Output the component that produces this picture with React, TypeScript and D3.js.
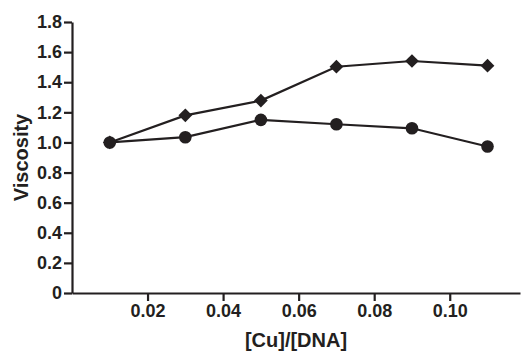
import React, { useRef, useEffect } from 'react';
import * as d3 from 'd3';

const RATIOS = [0.01, 0.03, 0.05, 0.07, 0.09, 0.11];
const DIAMOND_SERIES = [1.0, 1.18, 1.278, 1.503, 1.541, 1.51];
const CIRCLE_SERIES = [1.0, 1.035, 1.15, 1.121, 1.094, 0.973];
const X_TICKS = [0.02, 0.04, 0.06, 0.08, 0.1];
const Y_TICKS = [0, 0.2, 0.4, 0.6, 0.8, 1.0, 1.2, 1.4, 1.6, 1.8];

const INK = '#231f20';
const FONT = '"Liberation Sans", Arial, Helvetica, sans-serif';

function App() {
    const svgRef = useRef<SVGSVGElement>(null);
    const width = 521;
    const height = 351;
    const margin = { top: 22, right: 1, bottom: 58, left: 72 };

    useEffect(() => {
        const svg = d3.select(svgRef.current);
        svg.selectAll('*').remove();

        const xScale = d3.scaleLinear()
            .domain([0, 0.1186])
            .range([margin.left, width - margin.right]);
        const yScale = d3.scaleLinear()
            .domain([0, 1.8])
            .range([height - margin.bottom, margin.top]);

        svg.append('g')
            .attr('transform', `translate(0, ${yScale(0)})`)
            .call(d3.axisBottom(xScale).tickValues(X_TICKS).tickSize(8).tickSizeOuter(0).tickFormat(d3.format('.2f')));

        const yAxis = svg.append('g')
            .attr('transform', `translate(${margin.left}, 0)`)
            .call(d3.axisLeft(yScale).tickValues(Y_TICKS).tickSize(8).tickSizeOuter(0)
                .tickFormat(d => (d === 0 ? '0' : d3.format('.1f')(d as number))));
        yAxis.selectAll('text').attr('x', -10);

        svg.selectAll('.domain').attr('stroke', INK).attr('stroke-width', 2.2);
        svg.selectAll('.tick line').attr('stroke', INK).attr('stroke-width', 2.2);
        svg.selectAll('.tick text')
            .attr('fill', INK)
            .style('font-family', FONT)
            .style('font-size', '18px')
            .style('font-weight', 'bold');

        const line = d3.line<number>()
            .x((_, i) => xScale(RATIOS[i]))
            .y(d => yScale(d));

        [DIAMOND_SERIES, CIRCLE_SERIES].forEach(series => {
            svg.append('path')
                .datum(series)
                .attr('fill', 'none')
                .attr('stroke', INK)
                .attr('stroke-width', 2.2)
                .attr('d', line);
        });

        svg.selectAll('.diamond')
            .data(DIAMOND_SERIES)
            .enter()
            .append('path')
            .attr('class', 'diamond')
            .attr('d', d3.symbol(d3.symbolDiamond2, 120))
            .attr('transform', (d, i) => `translate(${xScale(RATIOS[i])}, ${yScale(d)})`)
            .attr('fill', INK);

        svg.selectAll('.dot')
            .data(CIRCLE_SERIES)
            .enter()
            .append('circle')
            .attr('class', 'dot')
            .attr('cx', (d, i) => xScale(RATIOS[i]))
            .attr('cy', d => yScale(d))
            .attr('r', 6.3)
            .attr('fill', INK);

        svg.append('text')
            .attr('x', 296)
            .attr('y', 347)
            .attr('text-anchor', 'middle')
            .attr('fill', INK)
            .style('font-family', FONT)
            .style('font-size', '20px')
            .style('font-weight', 'bold')
            .text('[Cu]/[DNA]');

        svg.append('text')
            .attr('transform', `translate(28, ${(yScale(0) + yScale(1.8)) / 2}) rotate(-90)`)
            .attr('text-anchor', 'middle')
            .attr('fill', INK)
            .style('font-family', FONT)
            .style('font-size', '20px')
            .style('font-weight', 'bold')
            .text('Viscosity');
    }, []);

    return (
        <svg
            ref={svgRef}
            width={width}
            height={height}
            style={{ position: 'absolute', left: 0, top: 0, background: '#fff' }}
        />
    );
}

export default App;
